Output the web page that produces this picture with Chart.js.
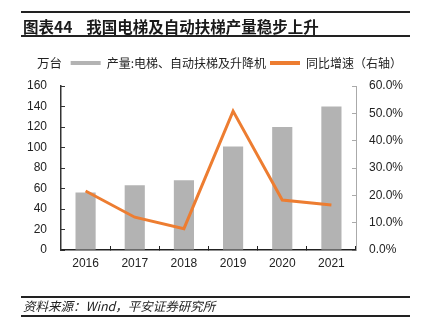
<!DOCTYPE html>
<html>
<head>
<meta charset="utf-8">
<script src="https://cdn.jsdelivr.net/npm/chart.js@4.4.0/dist/chart.umd.min.js"></script>
<style>
  html, body { margin: 0; padding: 0; background: #fff; }
  #wrap { position: relative; width: 421px; height: 326px; overflow: hidden; }
  #chart { position: absolute; left: 0; top: 0; }
  .rule { position: absolute; left: 21px; width: 389px; height: 1.5px; background: #222; }
  #title {
    position: absolute; left: 23px; top: 17px; font: bold 15.5px "Noto Sans CJK SC", sans-serif;
    color: #1a1a1a; white-space: pre; line-height: 18px;
  }
  #unit {
    position: absolute; left: 37px; top: 55px; font: 12.5px "Noto Sans CJK SC", sans-serif;
    color: #222; line-height: 16px;
  }
  #source {
    position: absolute; left: 23px; top: 297px; font: italic 12.5px "Noto Sans CJK SC", sans-serif;
    color: #222; line-height: 17px;
  }
</style>
</head>
<body>
<div id="wrap">
  <canvas id="chart" width="421" height="326"></canvas>
  <div class="rule" style="top:11px"></div>
  <div id="title">图表44    我国电梯及自动扶梯产量稳步上升</div>
  <div class="rule" style="top:35px"></div>
  <div id="unit">万台</div>
  <div class="rule" style="top:296px"></div>
  <div id="source">资料来源：Wind，平安证券研究所</div>
  <div class="rule" style="top:315px"></div>
</div>
<script>
const years = ['2016', '2017', '2018', '2019', '2020', '2021'];
const output = [56.1, 63.2, 68.0, 101.0, 119.9, 140.1];   // 万台
const yoyGrowth = [21.6, 12.0, 7.8, 50.8, 18.3, 16.5];   // %
const outputLabel = '产量:电梯、自动扶梯及升降机';
const growthLabel = '同比增速（右轴）';

const grey = '#b3b3b3';
const orange = '#ed7d31';
const tickFont = { family: '"Liberation Sans", Arial, sans-serif', size: 12 };

// make the legend box a bit taller so the plot starts lower
const legendSpacer = {
    id: 'legendSpacer',
    beforeInit(chart) {
        const fit = chart.legend.fit;
        chart.legend.fit = function () {
            fit.bind(chart.legend)();
            this.height += 7;
        };
    }
};

new Chart(document.getElementById('chart'), {
    type: 'bar',
    data: {
        labels: years,
        datasets: [
            {
                label: outputLabel,
                data: output,
                backgroundColor: grey,
                borderWidth: 0,
                categoryPercentage: 1,
                barPercentage: 0.41,
                yAxisID: 'y',
                order: 2
            },
            {
                type: 'line',
                label: growthLabel,
                data: yoyGrowth,
                borderColor: orange,
                backgroundColor: orange,
                borderWidth: 3,
                pointRadius: 0,
                tension: 0,
                yAxisID: 'y1',
                order: 1
            }
        ]
    },
    plugins: [legendSpacer],
    options: {
        responsive: false,
        animation: false,
        layout: { padding: { left: 0, right: 15, top: 53, bottom: 50 } },
        plugins: {
            tooltip: { enabled: false },
            legend: {
                position: 'top',
                align: 'end',
                labels: {
                    boxWidth: 30,
                    boxHeight: 4,
                    padding: 4,
                    color: '#222',
                    font: { family: '"Noto Sans CJK SC", sans-serif', size: 12 },
                    sort: (a, b) => a.datasetIndex - b.datasetIndex,
                    generateLabels(chart) {
                        const items = Chart.defaults.plugins.legend.labels.generateLabels(chart);
                        items.forEach(it => { it.lineWidth = 0; });
                        return items;
                    }
                }
            }
        },
        scales: {
            x: {
                offset: true,
                grid: { offset: true, drawOnChartArea: false, tickLength: -4, color: '#222' },
                border: { color: '#222', width: 1.5 },
                ticks: { color: '#222', font: tickFont, padding: 10 },
                afterFit(scale) { scale.height = 26; }
            },
            y: {
                position: 'left',
                min: 0,
                max: 160,
                grid: { drawOnChartArea: false, tickLength: -4, color: '#333' },
                border: { color: '#333', width: 1.5 },
                ticks: { stepSize: 20, color: '#222', font: tickFont, padding: 18 },
                afterFit(scale) { scale.width = 61; }
            },
            y1: {
                position: 'right',
                min: 0,
                max: 60,
                grid: { drawOnChartArea: false, tickLength: -4, color: '#aaa' },
                border: { color: '#aaa', width: 1 },
                ticks: {
                    stepSize: 10,
                    color: '#222',
                    font: tickFont,
                    padding: 17,
                    callback: v => v.toFixed(1) + '%'
                },
                afterFit(scale) { scale.width = 50; }
            }
        }
    }
});
</script>
</body>
</html>
